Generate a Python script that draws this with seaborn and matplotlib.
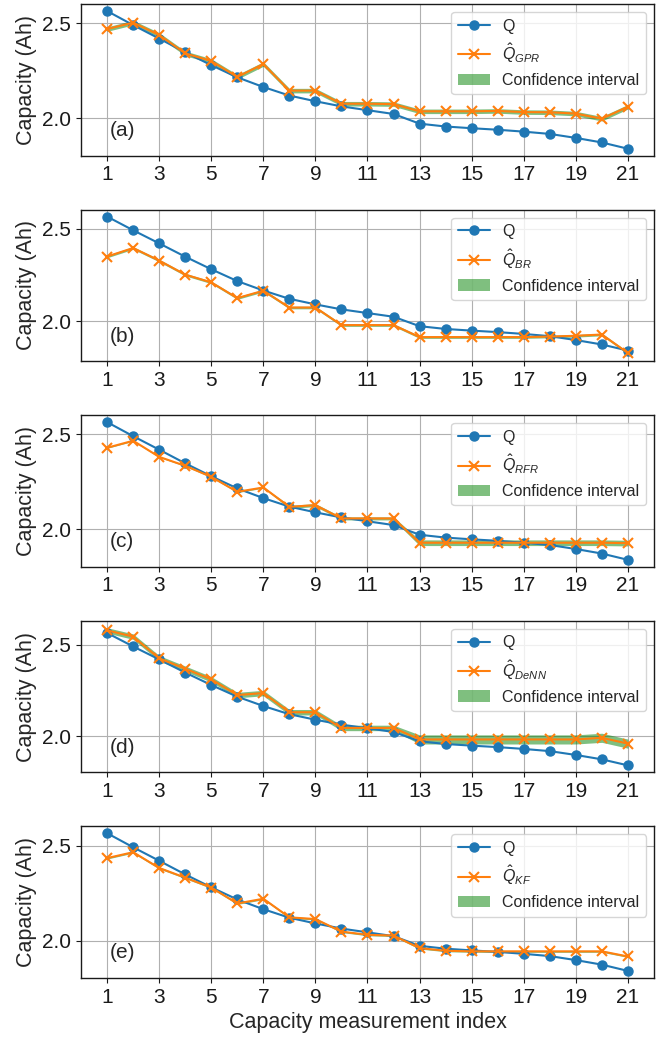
import matplotlib
matplotlib.use("Agg")
import matplotlib.pyplot as plt
import numpy as np
import seaborn as sns

# ---------------- data ----------------
idx = list(range(1, 22))
xticks = [1, 3, 5, 7, 9, 11, 13, 15, 17, 19, 21]
yticks = [2.0, 2.5]

q_true = [2.565, 2.491, 2.420, 2.348, 2.280, 2.216, 2.165, 2.120, 2.090, 2.063, 2.043,
          2.023, 1.972, 1.957, 1.948, 1.940, 1.930, 1.918, 1.897, 1.873, 1.840]

q_gpr = [2.470, 2.504, 2.439, 2.342, 2.302, 2.218, 2.286, 2.146, 2.146, 2.077, 2.077,
         2.075, 2.037, 2.037, 2.037, 2.039, 2.033, 2.032, 2.025, 1.998, 2.061]
ci_gpr = [0.012] * 21

q_br = [2.349, 2.395, 2.327, 2.251, 2.209, 2.124, 2.164, 2.073, 2.073, 1.978, 1.978,
        1.978, 1.913, 1.913, 1.913, 1.913, 1.913, 1.916, 1.920, 1.927, 1.827]
ci_br = [0.007] * 21

q_rfr = [2.430, 2.467, 2.382, 2.335, 2.277, 2.198, 2.221, 2.119, 2.128, 2.058, 2.058,
         2.058, 1.930, 1.930, 1.930, 1.930, 1.930, 1.930, 1.930, 1.930, 1.928]
ci_rfr = [0.003, 0.003, 0.003, 0.003, 0.004, 0.004, 0.004, 0.008, 0.008, 0.008, 0.008,
          0.008, 0.015, 0.015, 0.015, 0.015, 0.015, 0.015, 0.015, 0.015, 0.015]

q_denn = [2.579, 2.545, 2.426, 2.369, 2.311, 2.225, 2.236, 2.131, 2.131, 2.045, 2.045,
          2.045, 1.982, 1.982, 1.982, 1.982, 1.982, 1.982, 1.982, 1.991, 1.959]
ci_denn = [0.015, 0.015, 0.015, 0.015, 0.015, 0.015, 0.015, 0.015, 0.015, 0.015, 0.015,
           0.015, 0.025, 0.025, 0.025, 0.025, 0.025, 0.025, 0.025, 0.025, 0.025]

q_kf = [2.434, 2.465, 2.382, 2.331, 2.279, 2.195, 2.220, 2.122, 2.113, 2.047, 2.030,
        2.026, 1.960, 1.946, 1.943, 1.943, 1.943, 1.943, 1.943, 1.943, 1.916]
ci_kf = [0.005] * 21

pred_labels = [r"$\hat{Q}_{GPR}$", r"$\hat{Q}_{BR}$", r"$\hat{Q}_{RFR}$",
               r"$\hat{Q}_{DeNN}$", r"$\hat{Q}_{KF}$"]
panel_tags = ["(a)", "(b)", "(c)", "(d)", "(e)"]
preds = [q_gpr, q_br, q_rfr, q_denn, q_kf]
cis = [ci_gpr, ci_br, ci_rfr, ci_denn, ci_kf]

# ---------------- style ----------------
sns.set_theme(style="ticks")
plt.rcParams["font.family"] = ["Liberation Sans", "DejaVu Sans"]
plt.rcParams["mathtext.fontset"] = "custom"
plt.rcParams["mathtext.rm"] = "Liberation Sans"
plt.rcParams["mathtext.it"] = "Liberation Sans:italic"
plt.rcParams["mathtext.bf"] = "Liberation Sans:bold"
plt.rcParams["axes.edgecolor"] = "0.1"
plt.rcParams["xtick.color"] = "0.1"
plt.rcParams["ytick.color"] = "0.1"

blue = "#1f77b4"
orange = "#ff7f0e"

fig, axes = plt.subplots(5, 1, figsize=(6.7, 10.38), dpi=100)
fig.subplots_adjust(left=0.121, right=0.976, top=0.996, bottom=0.058, hspace=0.357)

for ax, pred, ci, lab, tag in zip(axes, preds, cis, pred_labels, panel_tags):
    p = np.array(pred)
    c = np.array(ci)
    sns.lineplot(x=idx, y=q_true, ax=ax, color=blue, marker="o", markersize=6.5,
                 markeredgecolor=blue, markeredgewidth=1.0, linewidth=1.5,
                 label="Q", zorder=3)
    sns.lineplot(x=idx, y=pred, ax=ax, color=orange, marker="x", markersize=7,
                 markeredgecolor=orange, markeredgewidth=1.5, linewidth=1.5,
                 label=lab, zorder=4)
    ax.fill_between(idx, p - c, p + c, color="green", alpha=0.5, linewidth=0,
                    label="Confidence interval", zorder=2)
    ax.set_xlim(0, 22)
    ax.set_xticks(xticks)
    ax.set_yticks(yticks)
    ax.set_yticklabels(["2.0", "2.5"])
    ax.tick_params(axis="both", labelsize=15, length=3.5, width=0.8)
    ax.grid(True, color="#b0b0b0", linewidth=0.8)
    ax.set_axisbelow(True)
    ax.set_ylabel("Capacity (Ah)", fontsize=15.5)
    for s in ax.spines.values():
        s.set_linewidth(1.0)
    ax.text(0.05, 0.165, tag, transform=ax.transAxes, fontsize=15, va="center", ha="left")
    ax.legend(loc="upper right", fontsize=11.5, frameon=True, fancybox=True,
              framealpha=0.8, edgecolor="0.8")

axes[-1].set_xlabel("Capacity measurement index", fontsize=15.5)

fig.savefig("out.png", dpi=100)
